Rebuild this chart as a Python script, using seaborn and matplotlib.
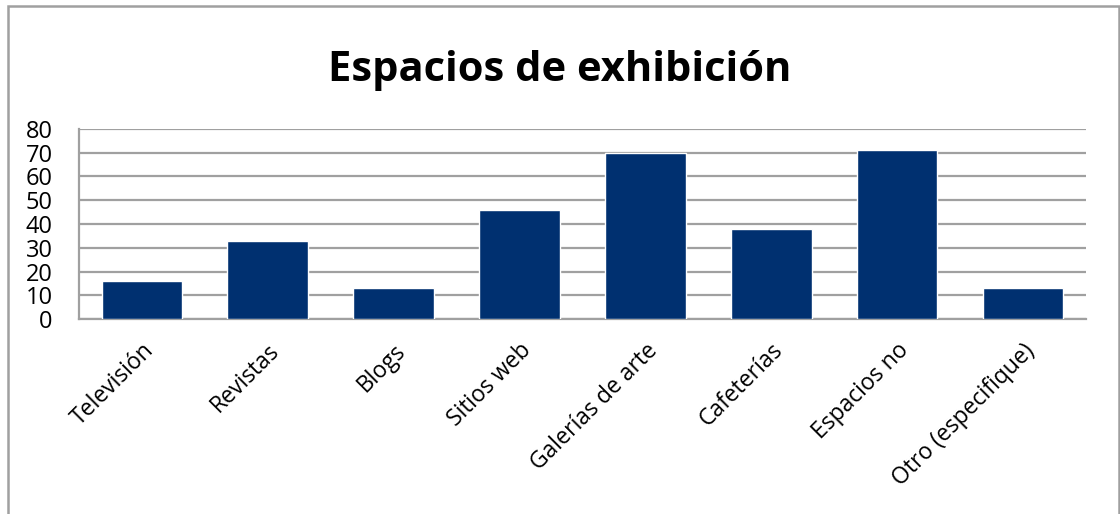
import matplotlib
matplotlib.use("Agg")
import matplotlib.pyplot as plt
import matplotlib.patches as mpatches
import pandas as pd
import seaborn as sns

# data
categories = ["Televisión", "Revistas", "Blogs", "Sitios web",
              "Galerías de arte", "Cafeterías", "Espacios no", "Otro (especifique)"]
values = [16, 33, 13, 46, 70, 38, 71, 13]
y_ticks = [0, 10, 20, 30, 40, 50, 60, 70, 80]

df = pd.DataFrame({"categoria": categories, "valor": values})

sns.set_theme(style="white")
plt.rcParams["font.family"] = ["Open Sans", "DejaVu Sans"]

fig = plt.figure(figsize=(11.2, 5.14), dpi=100)
ax = fig.add_axes([0.0705, 0.3788, 0.8991, 0.3708])

sns.barplot(data=df, x="categoria", y="valor", color="#003070",
            width=0.64, saturation=1, ax=ax, zorder=3)

ax.set_ylim(0, 80)
ax.set_yticks(y_ticks)
ax.yaxis.grid(True, color="#a0a0a0", linewidth=1.6, zorder=0)
ax.set_axisbelow(True)
ax.set_xlabel("")
ax.set_ylabel("")

for side in ["top", "right"]:
    ax.spines[side].set_visible(False)
for side in ["left", "bottom"]:
    ax.spines[side].set_color("#a0a0a0")
    ax.spines[side].set_linewidth(1.6)

ax.tick_params(axis="y", length=0, pad=19, labelsize=17, labelcolor="black")
ax.tick_params(axis="x", length=0, pad=14, labelsize=16.5, labelcolor="black")
plt.setp(ax.get_xticklabels(), rotation=45, ha="right", rotation_mode="anchor")

fig.text(0.5, 1 - 81 / 514, "Espacios de exhibición", ha="center", va="baseline",
         fontsize=30, fontweight="bold", color="black")

# chart area border
fig.patches.append(mpatches.Rectangle((8 / 1120, -0.1), 1111 / 1120, 1.088,
                                      transform=fig.transFigure, fill=False,
                                      edgecolor="#a0a0a0", linewidth=1.8))

fig.savefig("out.png", dpi=100)
plt.close(fig)
